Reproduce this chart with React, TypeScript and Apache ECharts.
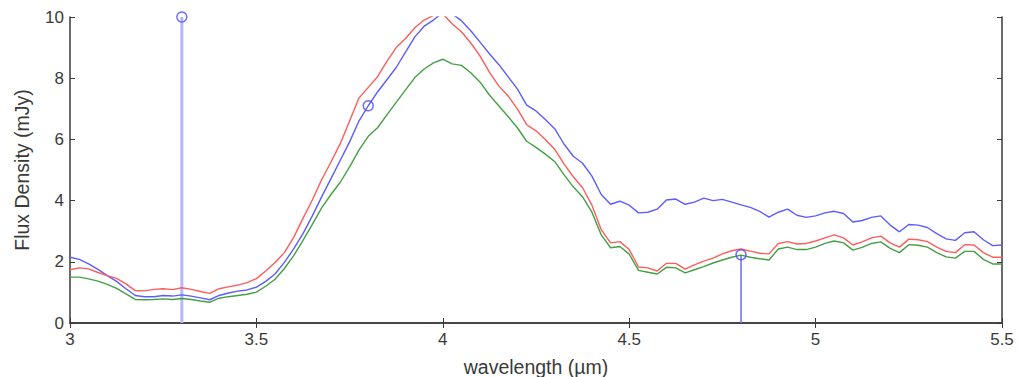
import React, { useEffect, useRef } from "react";
import * as echarts from "echarts";

const wavelengths = [
  3.0, 3.025, 3.05, 3.075, 3.1, 3.125, 3.15, 3.175, 3.2, 3.225, 3.25, 3.275, 3.3, 3.325, 3.35, 3.375, 3.4, 3.425, 3.45, 3.475,
  3.5, 3.525, 3.55, 3.575, 3.6, 3.625, 3.65, 3.675, 3.7, 3.725, 3.75, 3.775, 3.8, 3.825, 3.85, 3.875, 3.9, 3.925, 3.95, 3.975,
  4.0, 4.025, 4.05, 4.075, 4.1, 4.125, 4.15, 4.175, 4.2, 4.225, 4.25, 4.275, 4.3, 4.325, 4.35, 4.375, 4.4, 4.425, 4.45, 4.475,
  4.5, 4.525, 4.55, 4.575, 4.6, 4.625, 4.65, 4.675, 4.7, 4.725, 4.75, 4.775, 4.8, 4.825, 4.85, 4.875, 4.9, 4.925, 4.95, 4.975,
  5.0, 5.025, 5.05, 5.075, 5.1, 5.125, 5.15, 5.175, 5.2, 5.225, 5.25, 5.275, 5.3, 5.325, 5.35, 5.375, 5.4, 5.425, 5.45, 5.475,
  5.5,
];

const blueFlux = [
  2.15, 2.08, 1.93, 1.75, 1.55, 1.36, 1.12, 0.9, 0.86, 0.86, 0.9, 0.88, 0.92, 0.88, 0.82, 0.76, 0.9, 0.98, 1.04, 1.08,
  1.17, 1.36, 1.6, 1.98, 2.42, 2.92, 3.5, 4.12, 4.72, 5.32, 5.92, 6.6, 7.1, 7.55, 7.95, 8.35, 8.85, 9.35, 9.7, 9.9,
  10.15, 10.1, 9.88, 9.55, 9.18, 8.8, 8.45, 8.05, 7.65, 7.12, 6.93, 6.65, 6.35, 5.85, 5.45, 5.22, 4.8, 4.2, 3.88, 3.98,
  3.85, 3.6, 3.62, 3.72, 4.02, 4.05, 3.88, 3.95, 4.08, 4.0, 4.04, 3.95, 3.86, 3.78, 3.65, 3.46, 3.62, 3.72, 3.52, 3.45,
  3.5, 3.6, 3.65, 3.58, 3.3, 3.35, 3.45, 3.5, 3.2, 2.98, 3.22, 3.2, 3.12, 2.92, 2.75, 2.7, 2.95, 2.98, 2.72, 2.53,
  2.55,
];

const redFlux = [
  1.74, 1.8, 1.77, 1.65, 1.55, 1.46, 1.28, 1.06, 1.05, 1.1, 1.12, 1.09, 1.15, 1.1, 1.03, 0.97, 1.12, 1.18, 1.24, 1.32,
  1.45, 1.7, 1.98, 2.3, 2.8, 3.42, 4.02, 4.68, 5.26, 5.86, 6.6, 7.35, 7.7, 8.05, 8.55, 9.0, 9.3, 9.65, 9.9, 10.05,
  10.1, 9.78, 9.52, 9.15, 8.72, 8.2, 7.75, 7.42, 7.0, 6.48, 6.28, 6.0, 5.68, 5.2, 4.78, 4.42, 3.85, 3.05, 2.62, 2.66,
  2.4, 1.83, 1.8, 1.7, 1.95, 1.95, 1.76, 1.9, 2.02, 2.12, 2.26, 2.36, 2.42, 2.35, 2.28, 2.26, 2.6, 2.66, 2.58, 2.6,
  2.68, 2.78, 2.88, 2.78, 2.55, 2.65, 2.78, 2.84, 2.62, 2.48, 2.74, 2.72, 2.66, 2.48, 2.34, 2.3, 2.56, 2.55, 2.3, 2.15,
  2.15,
];

const greenFlux = [
  1.5, 1.5, 1.44, 1.37, 1.26, 1.13, 0.95, 0.77, 0.76, 0.77, 0.79, 0.77, 0.8, 0.77, 0.72, 0.68, 0.81, 0.86, 0.9, 0.94,
  1.01, 1.2, 1.43, 1.78, 2.2, 2.7, 3.22, 3.76, 4.2, 4.6, 5.1, 5.65, 6.1, 6.38, 6.8, 7.21, 7.62, 8.02, 8.3, 8.5,
  8.62, 8.47, 8.42, 8.18, 7.87, 7.45, 7.1, 6.75, 6.38, 5.94, 5.74, 5.52, 5.28, 4.85, 4.45, 4.12, 3.62, 2.88, 2.46, 2.5,
  2.25, 1.72, 1.66, 1.6, 1.82, 1.8, 1.64, 1.74, 1.84, 1.96, 2.06, 2.15, 2.22, 2.15, 2.1, 2.06, 2.42, 2.48, 2.4, 2.4,
  2.48, 2.6, 2.68, 2.62, 2.38, 2.47, 2.6, 2.65, 2.44, 2.3, 2.56, 2.54, 2.48, 2.3, 2.16, 2.12, 2.34, 2.34, 2.08, 1.93,
  1.93,
];

const markerX = [3.3, 3.8, 4.8];
const markerY = [10, 7.1, 2.23];

const stemX = [3.3, 4.8];
const stemTop = [10, 2.23];
const stemColors = ["#b3b8ff", "#6a6aff"];
const stemWidths = [3, 1.5];

const xTicks = ["3", "3.5", "4", "4.5", "5", "5.5"];
const yTicks = ["0", "2", "4", "6", "8", "10"];

const FONT = "Liberation Sans, Arial, sans-serif";
const AXIS_COLOR = "#3a3a3a";

export default function App() {
  const ref = useRef<HTMLDivElement>(null);

  useEffect(() => {
    document.body.style.margin = "0";
    if (!ref.current) return;
    const chart = echarts.init(ref.current, undefined, { renderer: "svg" });

    const pair = (ys: number[]) => wavelengths.map((x, i) => [x, ys[i]]);

    const axisCommon = {
      type: "value" as const,
      axisLine: { show: true, lineStyle: { color: AXIS_COLOR, width: 1.5 } },
      axisTick: { show: true, inside: true, length: 5, lineStyle: { color: AXIS_COLOR, width: 1 } },
      splitLine: { show: false },
    };

    const stemSeries = stemX.map((x, i) => ({
      type: "line" as const,
      data: [
        [x, 0],
        [x, stemTop[i]],
      ],
      showSymbol: false,
      silent: true,
      lineStyle: { color: stemColors[i], width: stemWidths[i] },
      z: 1,
    }));

    chart.setOption({
      animation: false,
      backgroundColor: "#ffffff",
      grid: { left: 70, right: 19, top: 17, bottom: 54, containLabel: false, outerBoundsMode: "none" },
      xAxis: [
        {
          ...axisCommon,
          min: 3,
          max: 5.5,
          interval: 0.5,
          position: "bottom",
          name: "wavelength (µm)",
          nameLocation: "middle",
          nameGap: 34,
          nameTextStyle: { fontFamily: FONT, fontSize: 19.5, color: AXIS_COLOR, verticalAlign: "top" },
          axisLabel: {
            fontFamily: FONT,
            fontSize: 17,
            color: AXIS_COLOR,
            margin: 8,
            formatter: (v: number) => xTicks[Math.round((v - 3) / 0.5)] ?? String(v),
          },
        },
        {
          ...axisCommon,
          min: 3,
          max: 5.5,
          interval: 0.5,
          position: "top",
          axisLabel: { show: false },
        },
      ],
      yAxis: [
        {
          ...axisCommon,
          min: 0,
          max: 10,
          interval: 2,
          position: "left",
          name: "Flux Density (mJy)",
          nameLocation: "middle",
          nameGap: 38,
          nameTextStyle: { fontFamily: FONT, fontSize: 19.5, color: AXIS_COLOR },
          axisLabel: {
            fontFamily: FONT,
            fontSize: 17,
            color: AXIS_COLOR,
            margin: 6,
            formatter: (v: number) => yTicks[Math.round(v / 2)] ?? String(v),
          },
        },
        {
          ...axisCommon,
          min: 0,
          max: 10,
          interval: 2,
          position: "right",
          axisLabel: { show: false },
        },
      ],
      series: [
        ...stemSeries,
        {
          type: "line",
          name: "blue",
          data: pair(blueFlux),
          showSymbol: false,
          lineStyle: { color: "#5c5cff", width: 1.4 },
          z: 3,
        },
        {
          type: "line",
          name: "red",
          data: pair(redFlux),
          showSymbol: false,
          lineStyle: { color: "#ff5c5c", width: 1.4 },
          z: 3,
        },
        {
          type: "line",
          name: "green",
          data: pair(greenFlux),
          showSymbol: false,
          lineStyle: { color: "#45a045", width: 1.4 },
          z: 3,
        },
        {
          type: "scatter",
          data: markerX.map((x, i) => [x, markerY[i]]),
          symbol: "circle",
          symbolSize: 10,
          clip: false,
          itemStyle: { color: "rgba(0,0,0,0)", borderColor: "#4a4aff", borderWidth: 1.5 },
          z: 5,
        },
      ],
    });

    return () => chart.dispose();
  }, []);

  return <div ref={ref} style={{ width: 1021, height: 377 }} />;
}
